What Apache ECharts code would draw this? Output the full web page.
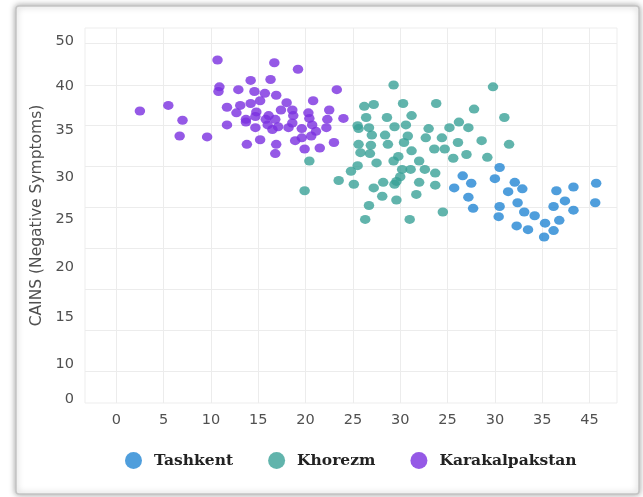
<!DOCTYPE html>
<html>
<head>
<meta charset="utf-8">
<script src="https://cdn.jsdelivr.net/npm/echarts@6/dist/echarts.min.js"></script>
<style>html,body{margin:0;padding:0;background:#fff}#c{width:643px;height:497px}</style>
</head>
<body>
<div id="c"></div>
<script>
// Tick labels as printed on the reference
const xTickLabels = ['0','5','10','15','20','25','30','25','30','35','45'];
const yTickLabels = ['0','10','15','20','25','30','35','40','50'];
const seriesNames = ['Tashkent','Khorezm','Karakalpakstan'];

// [x, y] values
const tashkent = [
[40.5,31.2],[36.6,30.3],[37.5,29.5],[40.0,30.0],[35.7,29.0],[42.1,29.6],[42.9,28.9],[41.4,28.6],
[37.2,28.0],[37.7,26.8],[40.5,27.0],[42.4,27.4],[40.4,25.9],[43.1,26.4],[44.2,26.0],[42.3,24.9],
[43.5,24.5],[45.3,25.2],[45.2,23.7],[46.2,24.4],[46.8,25.5],[46.2,27.0],[46.5,28.7],[47.4,27.6],
[48.3,29.1],[48.3,26.6],[50.7,29.5],[50.6,27.4]
];
const khorezm = [
[29.3,40.1],[39.8,39.9],[26.2,37.8],[27.2,38.0],[30.3,38.1],[33.8,38.1],[37.8,37.5],[26.4,36.6],
[28.6,36.6],[31.2,36.8],[25.5,35.7],[25.6,35.4],[26.7,35.5],[29.4,35.6],[30.6,35.8],[33.0,35.4],
[35.2,35.5],[36.2,36.1],[37.2,35.5],[27.0,34.7],[28.4,34.7],[30.8,34.6],[32.7,34.4],[34.4,34.4],
[36.1,33.9],[38.6,34.1],[25.6,33.7],[26.9,33.6],[28.7,33.7],[30.4,33.9],[33.6,33.2],[34.7,33.2],
[25.8,32.8],[26.8,32.7],[31.2,33.0],[37.0,32.6],[39.2,32.3],[20.4,31.9],[27.5,31.7],[29.3,31.9],
[29.8,32.4],[32.0,31.9],[35.6,32.2],[25.5,31.4],[24.8,30.8],[30.2,31.0],[31.1,31.0],[32.6,31.0],
[33.7,30.6],[23.5,29.8],[25.1,29.4],[27.2,29.0],[28.2,29.6],[29.4,29.4],[29.6,29.7],[30.0,30.2],
[32.0,29.6],[33.7,29.3],[19.9,28.7],[28.1,28.1],[29.6,27.7],[31.7,28.3],[26.7,27.1],[34.5,26.4],
[26.3,25.6],[31.0,25.6],[41.0,36.6],[41.5,33.7]
];
const karakalpakstan = [
[10.7,42.8],[16.7,42.5],[19.2,41.8],[14.2,40.6],[16.3,40.7],[10.9,39.9],[10.8,39.4],[12.9,39.6],
[14.6,39.4],[15.7,39.2],[16.9,39.0],[23.3,39.6],[2.5,37.3],[5.5,37.9],[7.0,36.3],[6.7,34.6],
[9.6,34.5],[11.7,37.7],[13.1,37.9],[14.2,38.1],[15.2,38.4],[18.0,38.2],[20.8,38.4],[12.7,37.1],
[14.8,37.2],[14.7,36.7],[13.7,36.4],[13.7,36.1],[11.7,35.8],[16.1,36.8],[15.8,36.4],[16.8,36.4],
[17.4,37.4],[18.6,37.4],[18.7,36.8],[20.3,37.1],[20.4,36.5],[22.5,37.4],[22.3,36.4],[24.0,36.5],
[14.7,35.5],[16.0,35.8],[16.5,35.3],[17.1,35.6],[18.2,35.5],[18.6,36.0],[19.6,35.4],[20.7,35.8],
[21.1,35.1],[22.2,35.5],[15.2,34.2],[13.8,33.7],[16.9,33.7],[18.9,34.1],[19.6,34.4],[20.6,34.6],
[23.0,33.9],[19.9,33.2],[21.5,33.3],[16.8,32.7]
];

const colors = ['#2386d3', '#3aa197', '#7b2fe0'];
const xPos = xTickLabels.map((_, i) => i * 5);
const yLabelPos = [6.2, 10, 15, 20.4, 25.6, 30.2, 35.2, 40, 44.85];
const yGridPos = [9.24, 13.67, 18.09, 22.52, 26.94, 31.37, 35.79, 40.11, 44.64];
const tickFont = {color: '#505050', fontFamily: 'DejaVu Sans', fontSize: 14.5};

const chart = echarts.init(document.getElementById('c'), null, {renderer: 'canvas'});
chart.setOption({
  backgroundColor: '#fff',
  animation: false,
  graphic: [{
    type: 'rect', z: -10, silent: true,
    shape: {x: 16, y: 6, width: 623, height: 488, r: 3},
    style: {fill: '#fff', stroke: '#c4c4c4', lineWidth: 1.5,
            shadowBlur: 6, shadowColor: 'rgba(0,0,0,0.35)'}
  }],
  grid: {left: 85, right: 26, top: 28, bottom: 94, show: true,
         borderColor: '#ededed', borderWidth: 1, backgroundColor: 'transparent'},
  xAxis: {
    type: 'value', min: -3.3, max: 52.9,
    axisLine: {show: false},
    axisTick: {show: false, customValues: xPos},
    splitLine: {show: true, lineStyle: {color: '#ececec', width: 1}},
    axisLabel: Object.assign({
      customValues: xPos, margin: 10,
      formatter: v => xTickLabels[Math.round(v / 5)]
    }, tickFont)
  },
  yAxis: {
    type: 'value', min: 5.8, max: 46.25,
    name: 'CAINS (Negative Symptoms)', nameLocation: 'middle', nameGap: 32,
    nameTextStyle: {color: '#505050', fontFamily: 'DejaVu Sans', fontSize: 15.5},
    axisLine: {show: false},
    axisTick: {show: false, customValues: yGridPos},
    splitLine: {show: true, lineStyle: {color: '#ececec', width: 1}},
    axisLabel: Object.assign({
      customValues: yLabelPos, margin: 11,
      formatter: v => {
        let best = 0;
        yLabelPos.forEach((p, i) => { if (Math.abs(p - v) < Math.abs(yLabelPos[best] - v)) best = i; });
        return yTickLabels[best];
      }
    }, tickFont)
  },
  legend: {
    bottom: 23, left: 120, itemGap: 35, itemWidth: 31, itemHeight: 17,
    icon: 'circle',
    data: seriesNames,
    textStyle: {color: '#222', fontFamily: 'DejaVu Serif', fontWeight: 'bold', fontSize: 15.5}
  },
  series: [
    {name: seriesNames[0], type: 'scatter', data: tashkent, symbolSize: [10.5, 9], itemStyle: {color: colors[0]}},
    {name: seriesNames[1], type: 'scatter', data: khorezm, symbolSize: [10.5, 9], itemStyle: {color: colors[1]}},
    {name: seriesNames[2], type: 'scatter', data: karakalpakstan, symbolSize: [10.5, 9], itemStyle: {color: colors[2]}}
  ]
});
</script>
</body>
</html>
